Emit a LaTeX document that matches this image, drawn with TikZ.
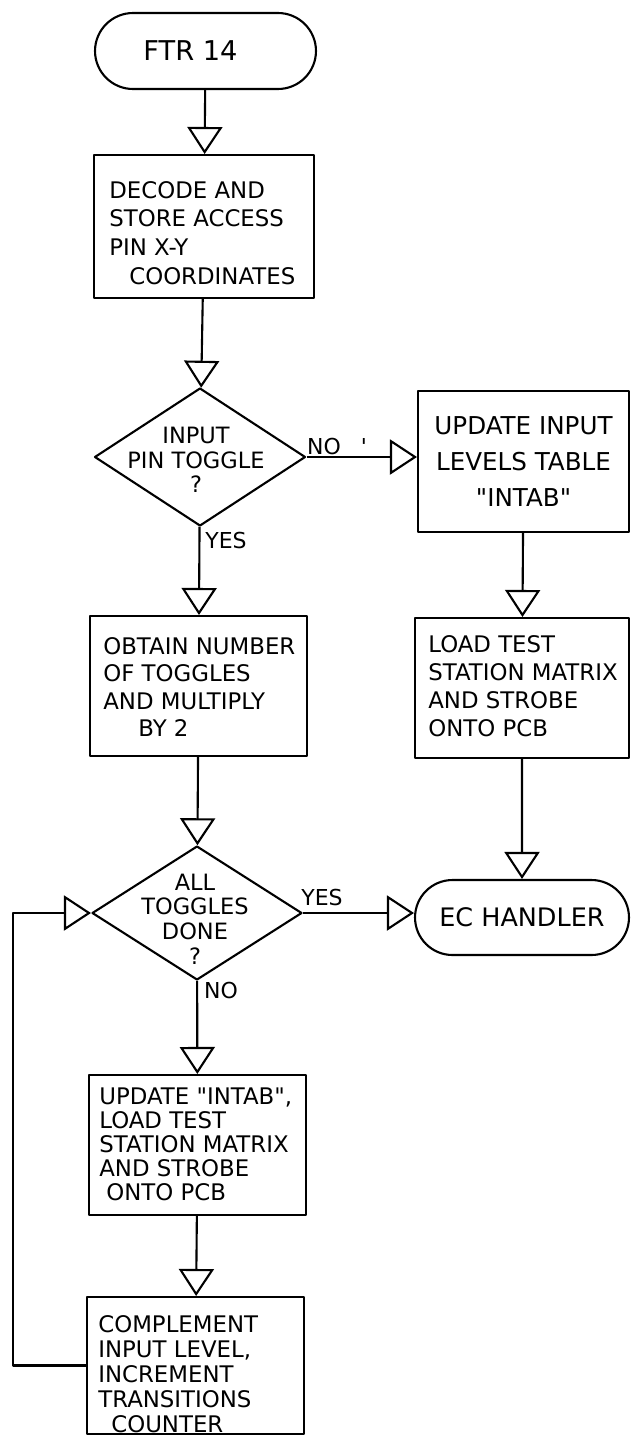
\documentclass[tikz,border=0pt]{standalone}
\usepackage{fontspec}
\setmainfont{DejaVu Sans}
\usetikzlibrary{shapes.geometric,shapes.misc,arrows.meta}

\tikzset{
  ink/.style={line width=1.2pt, line join=round},
  terminal/.style={ink, draw, rounded rectangle, inner sep=0pt, font=\fontsize{14.5}{16}\selectfont},
  procbox/.style={ink, draw, rectangle, inner sep=0pt},
  boxtext/.style={anchor=west, align=left, inner sep=0pt, font=\fontsize{13}{15}\selectfont},
  decision/.style={ink, draw, diamond, inner sep=0pt},
  qtext/.style={align=center, inner sep=0pt, font=\fontsize{12.8}{14}\selectfont},
  tag/.style={inner sep=0pt, font=\fontsize{12.5}{14}\selectfont},
  flow/.style={ink, -{Triangle[open, length=0.54cm, width=0.7cm]}}
}

\begin{document}
\begin{tikzpicture}[x=0.02cm, y=-0.02cm]
\useasboundingbox (0,0) rectangle (632,1437);

% left column
\node[terminal, minimum width=4.42cm, minimum height=1.52cm] (start) at (205.5,51)
  {\fontsize{15.5}{16}\selectfont FTR 14\kern0.6cm};

\node[procbox, minimum width=4.4cm, minimum height=2.86cm] (decode) at (204,226.5) {};
\node[boxtext, font=\fontsize{13}{16.4}\selectfont] (decode-t) at (109,233)
  {DECODE AND\\STORE ACCESS\\PIN X-Y\\\hspace*{0.4cm}COORDINATES};

\node[decision, minimum width=4.22cm, minimum height=2.76cm] (toggle) at (200,457) {};
\node[qtext] (toggle-t) at (196,460) {INPUT\\PIN TOGGLE\\?};

\node[procbox, minimum width=4.34cm, minimum height=2.8cm] (obtain) at (198.5,686) {};
\node[boxtext, font=\fontsize{13}{15.5}\selectfont] (obtain-t) at (103,687)
  {OBTAIN NUMBER\\OF TOGGLES\\AND MULTIPLY\\\hspace*{0.7cm}BY 2};

\node[decision, minimum width=4.2cm, minimum height=2.68cm] (done) at (197,913) {};
\node[qtext, font=\fontsize{12.8}{14}\selectfont] (done-t) at (195,919) {ALL\\TOGGLES\\DONE\\?};

\node[procbox, minimum width=4.34cm, minimum height=2.8cm] (update) at (197.5,1145) {};
\node[boxtext, font=\fontsize{13}{13.6}\selectfont] (update-t) at (99,1144.5)
  {UPDATE \textquotedbl INTAB\textquotedbl,\\LOAD TEST\\STATION MATRIX\\AND STROBE\\\hspace*{0.14cm}ONTO PCB};

\node[procbox, minimum width=4.34cm, minimum height=2.74cm] (complement) at (195.5,1365.5) {};
\node[boxtext, font=\fontsize{13}{14.2}\selectfont] (complement-t) at (98,1374)
  {COMPLEMENT\\INPUT LEVEL,\\INCREMENT\\TRANSITIONS\\\hspace*{0.26cm}COUNTER};

% right column
\node[procbox, align=center, minimum width=4.22cm, minimum height=2.82cm,
      font=\fontsize{14}{20.4}\selectfont] (levels) at (523.5,461.5)
  {UPDATE INPUT\\LEVELS TABLE\\\textquotedbl INTAB\textquotedbl};

\node[procbox, minimum width=4.28cm, minimum height=2.8cm] (station) at (522,688) {};
\node[boxtext, font=\fontsize{13}{15.9}\selectfont] (station-t) at (428,686.5)
  {LOAD TEST\\STATION MATRIX\\AND STROBE\\ONTO PCB};

\node[terminal, minimum width=4.28cm, minimum height=1.5cm] (handler) at (522,917.5) {EC HANDLER};

% branch labels
\node[tag] (notag) at (337,446) {NO\hspace{0.4cm}\textquotesingle};
\node[tag] (yestag) at (226,540) {YES};
\node[tag] (yestag2) at (322,897) {YES};
\node[tag] (notag2) at (221,990) {NO};

% return path of the loop
\coordinate (loopbot) at (13,1365.5);
\coordinate (looptop) at (13,913);

% connectors
\draw[flow] (start) -- (decode);
\draw[flow] (decode) -- (toggle);
\draw[flow] (toggle.east) -- (levels.west |- toggle.east);
\draw[flow] (toggle) -- (obtain);
\draw[flow] (levels) -- (station);
\draw[flow] (station) -- (handler);
\draw[flow] (obtain) -- (done);
\draw[flow] (done.east) -- (handler.west |- done.east);
\draw[flow] (done) -- (update);
\draw[flow] (update) -- (complement);
\draw[flow] (complement.west) -- (loopbot) -- (looptop) -- (done.west);
\end{tikzpicture}
\end{document}
